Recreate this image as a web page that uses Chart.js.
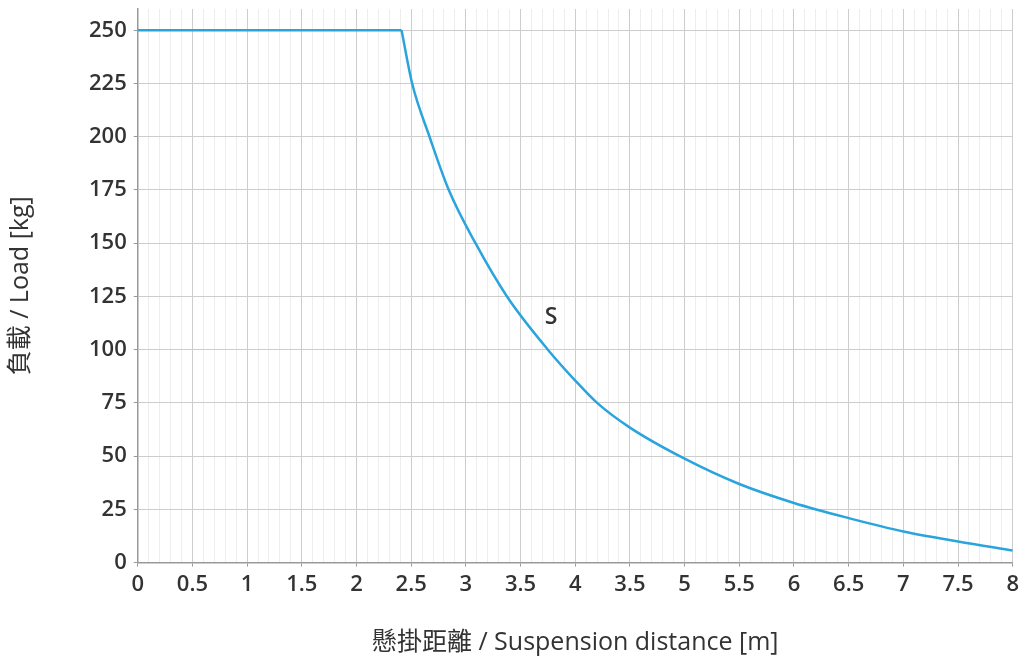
<!DOCTYPE html>
<html>
<head>
<meta charset="utf-8">
<script src="https://cdn.jsdelivr.net/npm/chart.js@4.4.1/dist/chart.umd.min.js"></script>
<style>
  html, body { margin: 0; padding: 0; background: #fff; }
  #wrap { width: 1024px; height: 659px; }
</style>
</head>
<body>
<div id="wrap"><canvas id="loadChart" width="1024" height="659"></canvas></div>
<script>
// flat part of the curve: full load up to the corner
const flatDistances = [0, 2.412];
const flatLoads = [250, 250];

// falling part (distance [m], load [kg])
const curveDistances = [2.412, 2.509, 2.668, 2.844, 3.088, 3.376, 3.75, 4.0, 4.2, 4.5, 5.0, 5.5, 6, 6.5, 7, 7.5, 8];
const curveLoads = [250, 225, 200, 175, 150, 125, 100, 85.5, 75, 63.4, 48.8, 36.9, 28.0, 20.9, 14.6, 9.9, 5.7];

// x tick labels as printed (the original shows "3.5" where 4.5 is)
const xTickValues = [0, 0.5, 1, 1.5, 2, 2.5, 3, 3.5, 4, 4.5, 5, 5.5, 6, 6.5, 7, 7.5, 8];
const xTickLabels = ['0', '0.5', '1', '1.5', '2', '2.5', '3', '3.5', '4', '3.5', '5', '5.5', '6', '6.5', '7', '7.5', '8'];
const yTickValues = [0, 25, 50, 75, 100, 125, 150, 175, 200, 225, 250];

const seriesLabel = 'S';
const seriesLabelAt = { x: 3.78, y: 115 };

const xTitle = '懸掛距離 / Suspension distance [m]';
const yTitle = '負載 / Load [kg]';

const lineColor = '#2aa4dc';
const toPoints = (xs, ys) => xs.map((d, i) => ({ x: d, y: ys[i] }));
const tickFont = { family: "'Open Sans', 'Noto Sans CJK TC', sans-serif", size: 22, weight: '600' };
const titleFont = { family: "'Open Sans', 'Noto Sans CJK TC', sans-serif", size: 25 };

const seriesLabelPlugin = {
  id: 'seriesLabel',
  afterDatasetsDraw(chart) {
    const ctx = chart.ctx;
    const px = chart.scales.x.getPixelForValue(seriesLabelAt.x);
    const py = chart.scales.y.getPixelForValue(seriesLabelAt.y);
    ctx.save();
    ctx.font = "600 23px 'Open Sans', sans-serif";
    ctx.fillStyle = '#333';
    ctx.textAlign = 'center';
    ctx.textBaseline = 'middle';
    ctx.fillText(seriesLabel, px, py);
    ctx.restore();
  }
};

new Chart(document.getElementById('loadChart'), {
  type: 'line',
  data: {
    datasets: [{
      data: toPoints(flatDistances, flatLoads),
      borderColor: lineColor,
      borderWidth: 2.5,
      pointRadius: 0,
      tension: 0,
      fill: false
    }, {
      data: toPoints(curveDistances, curveLoads),
      borderColor: lineColor,
      borderWidth: 2.5,
      pointRadius: 0,
      cubicInterpolationMode: 'monotone',
      fill: false
    }]
  },
  options: {
    responsive: false,
    animation: false,
    layout: { padding: { left: 6, right: 9, top: 9, bottom: 0 } },
    plugins: { legend: { display: false }, tooltip: { enabled: false } },
    scales: {
      xMinor: {
        type: 'linear', position: 'bottom', min: 0, max: 8,
        ticks: { display: false, stepSize: 0.1 },
        grid: { color: '#ededed', lineWidth: 1, drawTicks: false },
        border: { display: false }
      },
      x: {
        type: 'linear', min: 0, max: 8,
        afterBuildTicks: (scale) => { scale.ticks = xTickValues.map(v => ({ value: v })); },
        ticks: {
          color: '#333', font: tickFont, maxRotation: 0, autoSkip: false, padding: 5,
          callback: (v, i) => xTickLabels[i]
        },
        grid: { color: '#cdcdcd', lineWidth: 1, tickLength: 4, tickColor: '#999' },
        border: { color: '#999', width: 1.5 },
        title: { display: true, text: xTitle, color: '#333', font: titleFont, padding: { top: 25, bottom: 1 } }
      },
      y: {
        type: 'linear', min: 0, max: 260,
        afterBuildTicks: (scale) => { scale.ticks = yTickValues.map(v => ({ value: v })); },
        afterFit: (scale) => { scale.paddingTop = 0; },
        ticks: { color: '#333', font: tickFont, padding: 7 },
        grid: { color: '#cdcdcd', lineWidth: 1, tickLength: 4, tickColor: '#999' },
        border: { color: '#999', width: 1.5 },
        title: { display: true, text: yTitle, color: '#333', font: titleFont, padding: { top: 0, bottom: 46 } }
      }
    }
  },
  plugins: [seriesLabelPlugin]
});
</script>
</body>
</html>
